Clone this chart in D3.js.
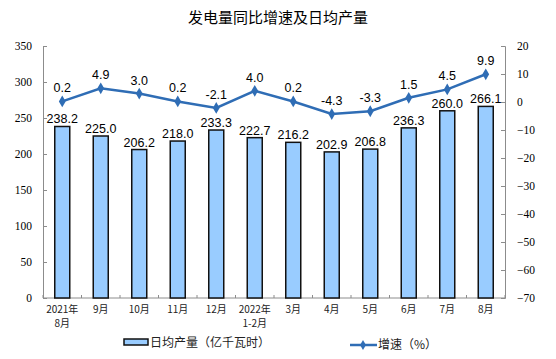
<!DOCTYPE html>
<html><head><meta charset="utf-8">
<script src="https://cdn.jsdelivr.net/npm/d3@7/dist/d3.min.js"></script>
<style>body{margin:0;background:#fff}svg{display:block}</style>
</head><body>
<svg id="c" width="556" height="359"></svg>
<script>
const categories = ["2021年\n8月","9月","10月","11月","12月","2022年\n1-2月","3月","4月","5月","6月","7月","8月"];
const dailyOutput = [238.2,225.0,206.2,218.0,233.3,222.7,216.2,202.9,206.8,236.3,260.0,266.1];
const growth = [0.2,4.9,3.0,0.2,-2.1,4.0,0.2,-4.3,-3.3,1.5,4.5,9.9];
const leftTicks = [0,50,100,150,200,250,300,350];
const rightTicks = [-70,-60,-50,-40,-30,-20,-10,0,10,20];
const title = "发电量同比增速及日均产量";
const legendBar = "日均产量（亿千瓦时）";
const legendLine = "增速（%）";

const svg = d3.select("#c");
const L = 43, R = 505, T = 46, B = 298;
const x = d3.scaleBand().domain(d3.range(categories.length)).range([L, R]);
const yL = d3.scaleLinear().domain([0,350]).range([B, T]);
const yR = d3.scaleLinear().domain([-70,20]).range([B, T]);
const axisColor = "#8c8c8c";
const lineColor = "#2f6db5";

svg.append("text").attr("x", 278).attr("y", 23).attr("text-anchor","middle")
  .attr("font-family","'Noto Sans CJK SC', sans-serif").attr("font-size",15).attr("fill","#000").text(title);

// left axis
const gl = svg.append("g").attr("transform",`translate(${L},0)`)
  .call(d3.axisLeft(yL).tickValues(leftTicks).tickSize(-4).tickPadding(11));
// right axis
const gr = svg.append("g").attr("transform",`translate(${R},0)`)
  .call(d3.axisRight(yR).tickValues(rightTicks).tickSize(-4).tickPadding(12));
[gl,gr].forEach(g=>{
  g.select(".domain").attr("stroke",axisColor);
  g.selectAll(".tick line").attr("stroke",axisColor);
  g.selectAll(".tick text").attr("font-family","'Liberation Serif', serif").attr("font-size",11.5).attr("fill","#000");
});
gl.selectAll(".tick text").attr("dx",0);
// bottom axis
svg.append("line").attr("x1",L).attr("x2",R).attr("y1",B).attr("y2",B).attr("stroke",axisColor);
svg.append("g").selectAll("line").data(d3.range(categories.length+1)).join("line")
  .attr("x1",i=>L + i*x.step()).attr("x2",i=>L + i*x.step())
  .attr("y1",B).attr("y2",B-3).attr("stroke",axisColor);

// category labels
const cl = svg.append("g").selectAll("text").data(categories).join("text")
  .attr("text-anchor","middle").attr("font-family","'Noto Sans CJK SC', sans-serif")
  .attr("font-size",10).attr("fill","#222")
  .attr("transform",(d,i)=>`translate(${x(i)+x.bandwidth()/2},313)`);
cl.each(function(d){
  const parts = d.split("\n");
  d3.select(this).selectAll("tspan").data(parts).join("tspan")
    .attr("x",0).attr("dy",(p,j)=>j===0?0:14).text(p=>p);
});

// bars
const bw = 15;
svg.append("g").selectAll("rect").data(dailyOutput).join("rect")
  .attr("x",(d,i)=>x(i)+x.bandwidth()/2-bw/2).attr("width",bw)
  .attr("y",d=>yL(d)).attr("height",d=>B-yL(d))
  .attr("fill","#99ccff").attr("stroke","#111").attr("stroke-width",1.5);
svg.append("g").selectAll("text").data(dailyOutput).join("text")
  .attr("x",(d,i)=>x(i)+x.bandwidth()/2).attr("y",d=>yL(d)-3)
  .attr("text-anchor","middle").attr("font-family","'Liberation Sans', Arial, sans-serif")
  .attr("font-size",12.5).attr("fill","#000").text(d=>d.toFixed(1));

// line
const line = d3.line().x((d,i)=>x(i)+x.bandwidth()/2).y(d=>yR(d));
svg.append("path").datum(growth).attr("d",line).attr("fill","none")
  .attr("stroke",lineColor).attr("stroke-width",2.5);
svg.append("g").selectAll("path").data(growth).join("path")
  .attr("d",d3.symbol(d3.symbolDiamond,40))
  .attr("transform",(d,i)=>`translate(${x(i)+x.bandwidth()/2},${yR(d)})`)
  .attr("fill",lineColor);
svg.append("g").selectAll("text").data(growth).join("text")
  .attr("x",(d,i)=>x(i)+x.bandwidth()/2).attr("y",d=>yR(d)-9)
  .attr("text-anchor","middle").attr("font-family","'Liberation Sans', Arial, sans-serif")
  .attr("font-size",12.5).attr("fill","#000").text(d=>d.toFixed(1));

// legend
svg.append("rect").attr("x",124).attr("y",339).attr("width",24).attr("height",6)
  .attr("fill","#99ccff").attr("stroke","#111").attr("stroke-width",1.5);
svg.append("text").attr("x",150).attr("y",347).attr("font-family","'Noto Sans CJK SC', sans-serif")
  .attr("font-size",12).attr("fill","#222").text(legendBar);
svg.append("line").attr("x1",350).attr("x2",377).attr("y1",345).attr("y2",345)
  .attr("stroke",lineColor).attr("stroke-width",2.5);
svg.append("path").attr("d",d3.symbol(d3.symbolDiamond,30)).attr("transform","translate(363,345)").attr("fill",lineColor);
svg.append("text").attr("x",378).attr("y",349).attr("font-family","'Noto Sans CJK SC', sans-serif")
  .attr("font-size",12).attr("fill","#222").text(legendLine);
</script>
</body></html>
